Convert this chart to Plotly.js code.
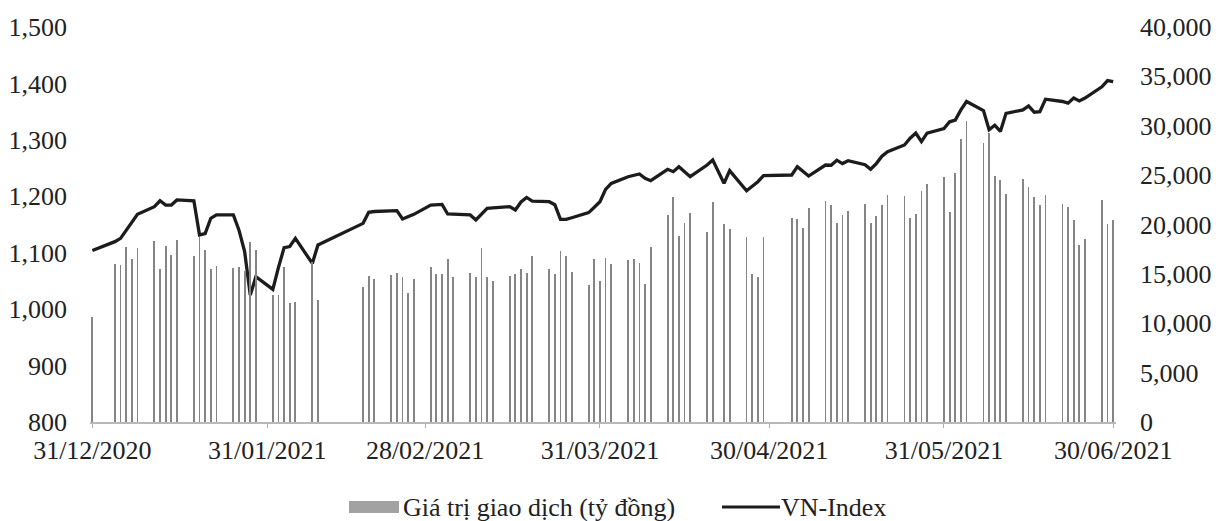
<!DOCTYPE html>
<html>
<head>
<meta charset="utf-8">
<script src="https://cdn.plot.ly/plotly-3.0.1.min.js"></script>
<style>
  html, body { margin: 0; padding: 0; background: #ffffff; }
  #chart { width: 1216px; height: 521px; }
</style>
</head>
<body>
<div id="chart"></div>
<script>
// Trading days
const dates = [
  '2020-12-31',
  '2021-01-04','2021-01-05','2021-01-06','2021-01-07','2021-01-08',
  '2021-01-11','2021-01-12','2021-01-13','2021-01-14','2021-01-15',
  '2021-01-18','2021-01-19','2021-01-20','2021-01-21','2021-01-22',
  '2021-01-25','2021-01-26','2021-01-27','2021-01-28','2021-01-29',
  '2021-02-01','2021-02-02','2021-02-03','2021-02-04','2021-02-05',
  '2021-02-08','2021-02-09',
  '2021-02-17','2021-02-18','2021-02-19',
  '2021-02-22','2021-02-23','2021-02-24','2021-02-25','2021-02-26',
  '2021-03-01','2021-03-02','2021-03-03','2021-03-04','2021-03-05',
  '2021-03-08','2021-03-09','2021-03-10','2021-03-11','2021-03-12',
  '2021-03-15','2021-03-16','2021-03-17','2021-03-18','2021-03-19',
  '2021-03-22','2021-03-23','2021-03-24','2021-03-25','2021-03-26',
  '2021-03-29','2021-03-30','2021-03-31','2021-04-01','2021-04-02',
  '2021-04-05','2021-04-06','2021-04-07','2021-04-08','2021-04-09',
  '2021-04-12','2021-04-13','2021-04-14','2021-04-15','2021-04-16',
  '2021-04-19','2021-04-20','2021-04-22','2021-04-23',
  '2021-04-26','2021-04-27','2021-04-28','2021-04-29',
  '2021-05-04','2021-05-05','2021-05-06','2021-05-07',
  '2021-05-10','2021-05-11','2021-05-12','2021-05-13','2021-05-14',
  '2021-05-17','2021-05-18','2021-05-19','2021-05-20','2021-05-21',
  '2021-05-24','2021-05-25','2021-05-26','2021-05-27','2021-05-28',
  '2021-05-31','2021-06-01','2021-06-02','2021-06-03','2021-06-04',
  '2021-06-07','2021-06-08','2021-06-09','2021-06-10','2021-06-11',
  '2021-06-14','2021-06-15','2021-06-16','2021-06-17','2021-06-18',
  '2021-06-21','2021-06-22','2021-06-23','2021-06-24','2021-06-25',
  '2021-06-28','2021-06-29','2021-06-30'
];

// VN-Index (left axis)
const vnIndex = [
  1103.9,
  1119.6,1125.5,1140,1153,1168,
  1181.5,1192,1184.5,1184.5,1193.5,
  1192,1131.5,1134,1161,1167,
  1167,1140,1102,1025,1057.5,
  1035,1074,1109,1111,1125.5,
  1081,1113.7,
  1152,1171.6,1173,
  1174,1174.5,1159.7,1164,1168,
  1184.5,1185,1185.7,1168.6,1168,
  1167,1158,1168,1178.6,1179.5,
  1181.6,1175.7,1190,1198,1191.6,
  1190.4,1185,1159,1159,1162,
  1171,1180.5,1190.4,1212.2,1222.9,
  1234.7,1237,1239.5,1231.8,1227.6,
  1247.8,1243.6,1252.5,1243.6,1234.7,
  1255.4,1264.3,1222.9,1245.5,
  1209.9,1217,1225.9,1236.5,
  1237.7,1252.5,1243.6,1235.9,
  1255.4,1255,1264,1258,1263,
  1256,1248,1258,1271,1279,
  1291,1303,1312,1297,1312,
  1320,1332,1335,1353,1368,
  1352,1318,1326,1315,1347,
  1353,1360,1349,1350,1372,
  1368,1365,1374,1369,1374,
  1394,1405,1403
];

// Trading value, billion VND (right axis)
const tradingValue = [
  10600,
  16000,15900,17700,16500,17600,
  18300,15500,17800,16900,18400,
  16800,18700,17400,15500,15800,
  15600,15700,15300,18200,17400,
  12900,12900,15700,12100,12200,
  16200,12400,
  13700,14800,14450,
  14900,15050,14650,13030,14480,
  15730,14950,14950,16510,14720,
  15120,14720,17590,14720,14280,
  14820,14950,15460,15120,16810,
  15460,14950,17280,16810,15220,
  13870,16470,14310,16570,15970,
  16400,16510,16130,13980,17690,
  20960,22750,18840,20190,21130,
  19270,22310,20050,19510,
  18770,14990,14720,18770,
  20690,20520,19610,21640,
  22420,21950,20190,20960,21370,
  22080,20190,20900,21980,22990,
  22920,20620,21060,23430,24070,
  24780,21230,25250,28630,30520,
  28220,29230,24950,24510,23090,
  24570,23770,22750,21980,22990,
  22040,21740,20460,17920,18500,
  22480,20050,20460
];

const tickDates = ['2020-12-31','2021-01-31','2021-02-28','2021-03-31','2021-04-30','2021-05-31','2021-06-30'];
const tickLabels = ['31/12/2020','31/01/2021','28/02/2021','31/03/2021','30/04/2021','31/05/2021','30/06/2021'];

const seriesNames = ['Giá trị giao dịch (tỷ đồng)', 'VN-Index'];

const FONT = 'Liberation Serif, Times New Roman, serif';
const FS = 26;
const DAY = 86400000;
const BAR_COLOR = '#858585';
const LINE_COLOR = '#1c1c1c';

// plot area in pixels (for placing the legend)
const W = 1216, H = 521;
const M = { l: 90, r: 100, t: 27, b: 99 };
const PW = W - M.l - M.r, PH = H - M.t - M.b;
const px = x => (x - M.l) / PW;
const py = y => (H - M.b - y) / PH;
const LEG_Y = 507;

const traces = [
  {
    type: 'bar',
    name: seriesNames[0],
    x: dates,
    y: tradingValue,
    yaxis: 'y2',
    width: DAY * 0.32,
    marker: { color: BAR_COLOR, line: { width: 0 } },
    showlegend: false
  },
  {
    type: 'scatter',
    mode: 'lines',
    name: seriesNames[1],
    x: dates,
    y: vnIndex,
    yaxis: 'y',
    line: { color: LINE_COLOR, width: 3.3 },
    showlegend: false
  }
];

const layout = {
  width: W,
  height: H,
  margin: M,
  paper_bgcolor: '#ffffff',
  plot_bgcolor: '#ffffff',
  font: { family: FONT, size: FS, color: '#222222' },
  showlegend: false,
  bargap: 0,
  xaxis: {
    type: 'date',
    range: ['2020-12-30 14:00', '2021-06-30 12:00'],
    tickmode: 'array',
    tickvals: tickDates,
    ticktext: tickLabels,
    ticks: 'outside',
    ticklen: 4,
    tickcolor: '#b0b0b0',
    ticklabelstandoff: 0,
    showline: true,
    linecolor: '#b8b8b8',
    linewidth: 1.5,
    showgrid: false,
    zeroline: false,
    tickfont: { family: FONT, size: FS, color: '#222222' }
  },
  yaxis: {
    range: [800, 1500],
    dtick: 100,
    tick0: 800,
    tickformat: ',d',
    showgrid: false,
    zeroline: false,
    showline: false,
    ticks: '',
    ticklabelstandoff: 22,
    tickfont: { family: FONT, size: FS, color: '#222222' }
  },
  yaxis2: {
    overlaying: 'y',
    side: 'right',
    range: [0, 40000],
    dtick: 5000,
    tick0: 0,
    tickformat: ',d',
    showgrid: false,
    zeroline: false,
    showline: false,
    ticks: '',
    ticklabelstandoff: 23,
    layer: 'below traces',
    tickfont: { family: FONT, size: FS, color: '#222222' }
  },
  shapes: [
    { type: 'rect', xref: 'paper', yref: 'paper',
      x0: px(349), x1: px(399), y0: py(LEG_Y + 6), y1: py(LEG_Y - 6),
      fillcolor: '#a2a2a2', line: { width: 0 } },
    { type: 'line', xref: 'paper', yref: 'paper',
      x0: px(722), x1: px(780), y0: py(LEG_Y), y1: py(LEG_Y),
      line: { color: LINE_COLOR, width: 3 } }
  ],
  annotations: [
    { xref: 'paper', yref: 'paper', x: px(401), y: py(LEG_Y),
      xanchor: 'left', yanchor: 'middle', showarrow: false,
      text: seriesNames[0], font: { family: FONT, size: FS, color: '#222222' } },
    { xref: 'paper', yref: 'paper', x: px(779), y: py(LEG_Y),
      xanchor: 'left', yanchor: 'middle', showarrow: false,
      text: seriesNames[1], font: { family: FONT, size: FS, color: '#222222' } }
  ]
};

Plotly.newPlot('chart', traces, layout, { displayModeBar: false, staticPlot: true });
</script>
</body>
</html>
